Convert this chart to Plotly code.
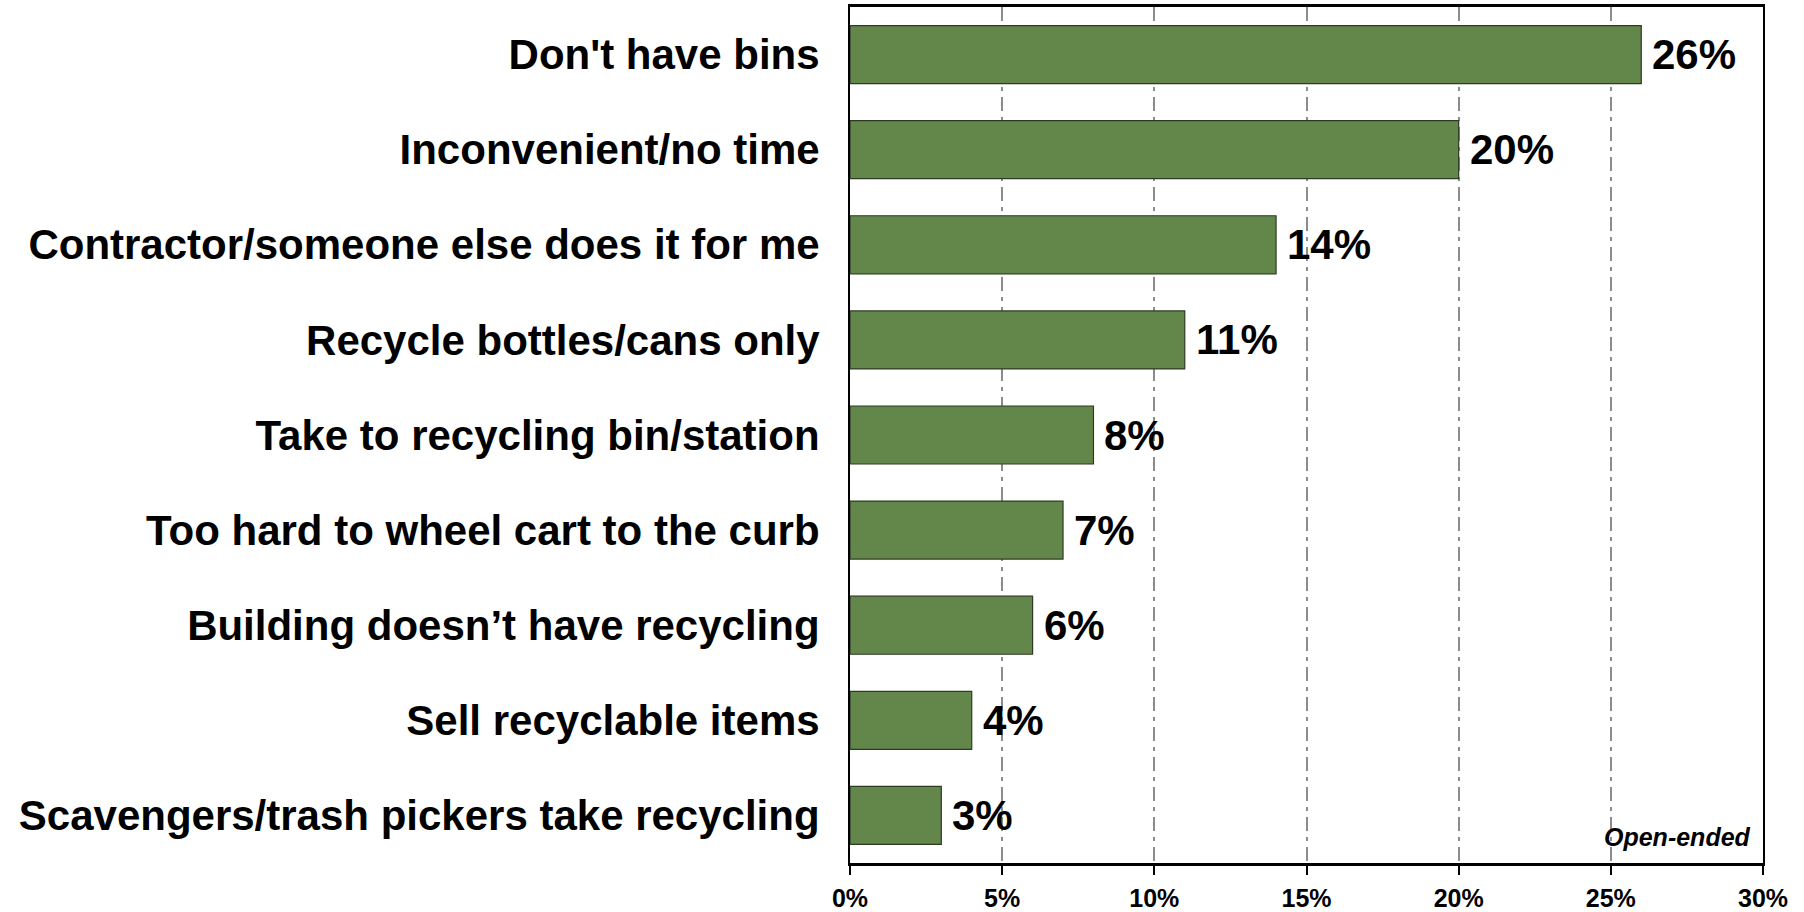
import plotly.graph_objects as go

categories = [
    "Don't have bins",
    "Inconvenient/no time",
    "Contractor/someone else does it for me",
    "Recycle bottles/cans only",
    "Take to recycling bin/station",
    "Too hard to wheel cart to the curb",
    "Building doesn\u2019t have recycling",
    "Sell recyclable items",
    "Scavengers/trash pickers take recycling",
]
values = [26, 20, 14, 11, 8, 7, 6, 4, 3]
tick_vals = [0, 5, 10, 15, 20, 25, 30]
tick_text = ["0%", "5%", "10%", "15%", "20%", "25%", "30%"]
note = "Open-ended"

FONT = "Liberation Sans, Arial, sans-serif"

fig = go.Figure()
fig.add_trace(go.Bar(
    x=values, y=categories, orientation="h",
    marker=dict(color="#63874A", line=dict(color="#2E3B24", width=1.2)),
    hoverinfo="skip",
))

for v, c in zip(values, categories):
    fig.add_annotation(
        x=v, y=c, xref="x", yref="y", text=f"{v}%", showarrow=False,
        xanchor="left", yanchor="middle", xshift=9,
        font=dict(family=FONT, size=42, color="black", weight="bold"),
    )

fig.add_annotation(
    x=0.989, y=0.03, xref="paper", yref="paper", text=note, showarrow=False,
    xanchor="right", yanchor="middle",
    font=dict(family=FONT, size=25, color="black", weight="bold", style="italic"),
)

fig.update_layout(
    width=1804, height=912,
    margin=dict(l=850, r=41, t=7, b=49, autoexpand=False),
    paper_bgcolor="white", plot_bgcolor="white",
    bargap=0.39,
    showlegend=False,
    xaxis=dict(
        range=[0, 30], tickvals=tick_vals, ticktext=tick_text,
        showgrid=True, gridcolor="#8C8C8C", gridwidth=2,
        griddash="14px,6px,4px,6px",
        showline=True, linecolor="black", linewidth=2.5, mirror=True,
        ticks="outside", ticklen=9, tickwidth=2, tickcolor="black",
        ticklabelstandoff=2, automargin=False,
        tickfont=dict(family=FONT, size=25, color="black", weight="bold"),
        zeroline=False, fixedrange=True,
    ),
    yaxis=dict(
        autorange="reversed", automargin=False,
        showline=True, linecolor="black", linewidth=2, mirror=True,
        ticks="", ticklabelstandoff=20,
        tickfont=dict(family=FONT, size=42, color="black", weight="bold"),
        showgrid=False, fixedrange=True,
    ),
)

fig.write_html(
    "out.html",
    config={"displayModeBar": False},
    post_script="document.body.style.margin='0';document.body.style.overflow='hidden';",
)
